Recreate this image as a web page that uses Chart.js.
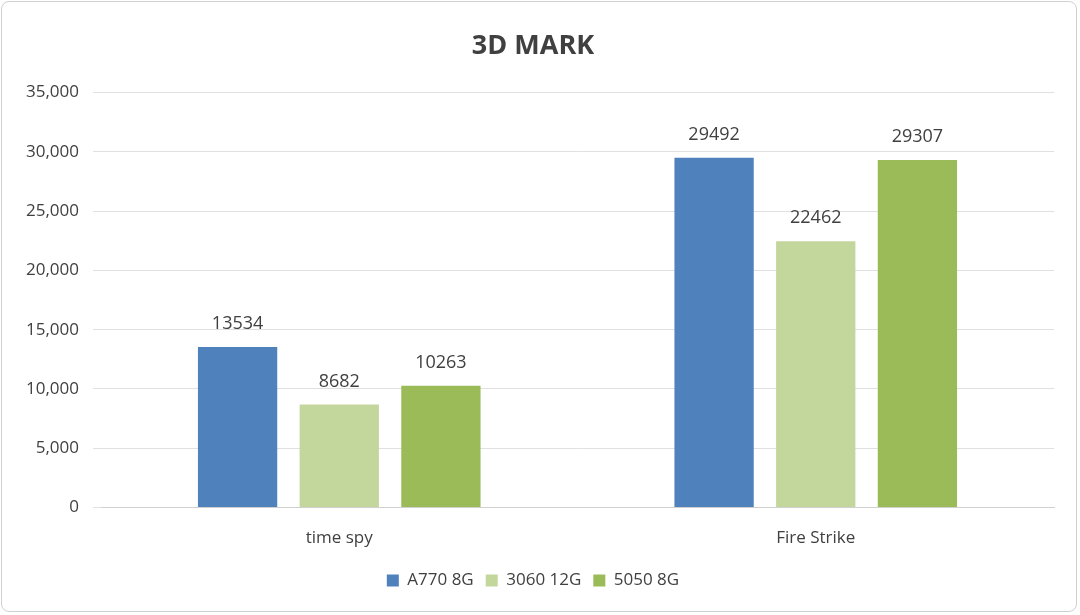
<!DOCTYPE html>
<html>
<head>
<meta charset="utf-8">
<script src="https://cdn.jsdelivr.net/npm/chart.js@4"></script>
<style>
  html, body { margin: 0; padding: 0; background: #fff; }
  #wrap { position: absolute; left: 1px; top: 1px; width: 1076px; height: 611px;
          border: 1px solid #d0d0d0; border-radius: 8px; box-sizing: border-box; }
</style>
</head>
<body>
<div id="wrap"><canvas id="c" width="1076" height="611"></canvas></div>
<script>
const categories = ['time spy', 'Fire Strike'];
const seriesNames = ['A770 8G', '3060 12G', '5050 8G'];
const a770 = [13534, 29492];
const rtx3060 = [8682, 22462];
const rtx5050 = [10263, 29307];
const colors = ['#4F81BD', '#C3D69B', '#9BBB59'];

const valueLabels = {
  id: 'valueLabels',
  afterDatasetsDraw(chart) {
    const ctx = chart.ctx;
    ctx.save();
    ctx.font = '18px "Open Sans", sans-serif';
    ctx.fillStyle = '#404040';
    ctx.textAlign = 'center';
    ctx.textBaseline = 'bottom';
    chart.data.datasets.forEach((ds, i) => {
      chart.getDatasetMeta(i).data.forEach((bar, j) => {
        ctx.fillText(ds.data[j], bar.x, bar.y - 14);
      });
    });
    ctx.restore();
  }
};

new Chart(document.getElementById('c'), {
  type: 'bar',
  data: {
    labels: categories,
    datasets: [a770, rtx3060, rtx5050].map((d, i) => ({
      label: seriesNames[i],
      data: d,
      backgroundColor: colors[i],
      categoryPercentage: 0.64,
      barPercentage: 0.78
    }))
  },
  options: {
    responsive: false,
    animation: false,
    layout: { padding: { left: 10, right: 24, top: 10, bottom: 14 } },
    plugins: {
      title: {
        display: true, text: '3D MARK', color: '#404040',
        font: { size: 27, weight: 'bold', family: '"Open Sans", sans-serif' },
        padding: { top: 18, bottom: 30 }
      },
      legend: {
        position: 'bottom',
        labels: { boxWidth: 12, boxHeight: 12, color: '#404040', padding: 12,
                  font: { size: 17, family: '"Open Sans", sans-serif' } }
      },
      tooltip: { enabled: false }
    },
    scales: {
      x: {
        grid: { display: false },
        border: { color: '#d0d0d0' },
        ticks: { color: '#404040', padding: 12, font: { size: 17, family: '"Open Sans", sans-serif' } }
      },
      y: {
        min: 0, max: 35000,
        ticks: { stepSize: 5000, color: '#404040', padding: 14,
                 font: { size: 17, family: '"Open Sans", sans-serif' } },
        grid: { color: '#e0e0e0' },
        border: { display: false }
      }
    }
  },
  plugins: [valueLabels]
});
</script>
</body>
</html>
